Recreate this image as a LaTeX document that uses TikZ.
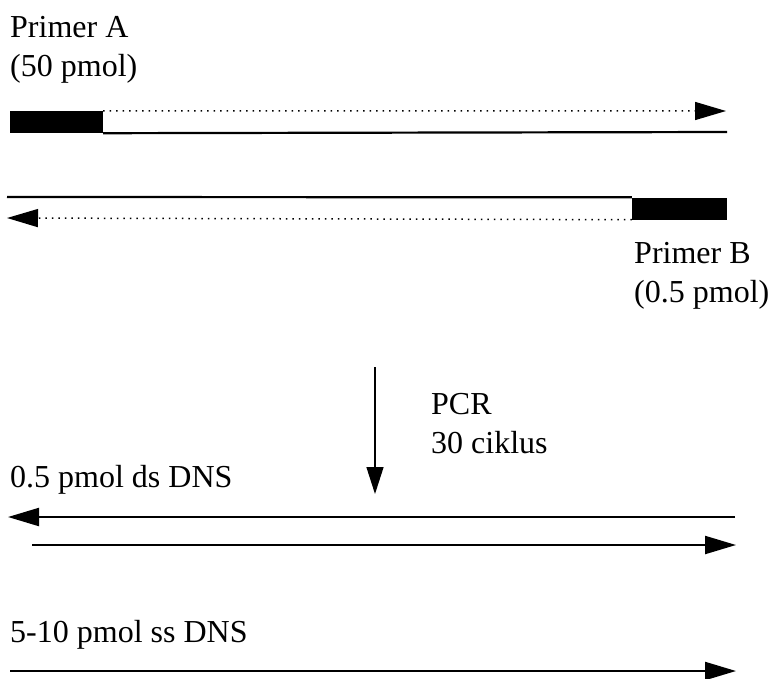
\documentclass[tikz,border=0pt]{standalone}
\usepackage{fontspec}
\setmainfont{Liberation Serif}
\usetikzlibrary{arrows.meta,positioning}

\begin{document}
\begin{tikzpicture}[x=1pt,y=-1pt]
%text nodes are placed by the base line of their last line
\tikzstyle{label}=[anchor=base west, inner sep=0pt, align=left, font=\fontsize{32}{39}\selectfont]
\tikzstyle{primer}=[fill=black, inner sep=0pt, minimum width=93pt, minimum height=22pt]
\tikzstyle{strand}=[line width=2.2pt]
\tikzstyle{newstrand}=[line width=1.5pt, dash pattern=on 1.5pt off 5pt]
\tikzstyle{tip}=[-{Triangle[length=31pt,width=18pt]}]
\useasboundingbox (0,0) rectangle (770,678);
\node[label](lblA) at (10,76) {Primer A\\(50 pmol)};
\node[primer](PA) at (56.5,122) {};
\coordinate (topR) at (727,132);
\coordinate (topA) at (726,111);
\draw[strand] (PA.south east) -- (topR);
\draw[newstrand, tip] (PA.north east) -- (topA);
\node[primer, minimum width=95pt](PB) at (679.5,208.5) {};
\coordinate (botL) at (7,197);
\coordinate (botA) at (7,218);
\draw[strand] (botL) -- (PB.north west);
\draw[newstrand, tip] (PB.south west) -- (botA);
\node[label](lblB) at (634,302) {Primer B\\(0.5 pmol)};
\coordinate (pcrT) at (375,367);
\coordinate (pcrB) at (375,494);
\draw[line width=1.4pt, -{Triangle[length=27pt,width=17pt]}] (pcrT) -- (pcrB);
\node[label](pcr) at (431,453) {PCR\\30 ciklus};
\node[label](ds) at (10,487) {0.5 pmol ds DNS};
\coordinate (ds1R) at (735,517);
\coordinate (ds1L) at (8,517);
\coordinate (ds2L) at (32,545);
\coordinate (ds2R) at (736,545);
\draw[strand, tip] (ds1R) -- (ds1L);
\draw[strand, tip] (ds2L) -- (ds2R);
\node[label](ss) at (10,642) {5-10 pmol ss DNS};
\coordinate (ssL) at (10,671);
\coordinate (ssR) at (736,671);
\draw[strand, tip] (ssL) -- (ssR);
\end{tikzpicture}
\end{document}
